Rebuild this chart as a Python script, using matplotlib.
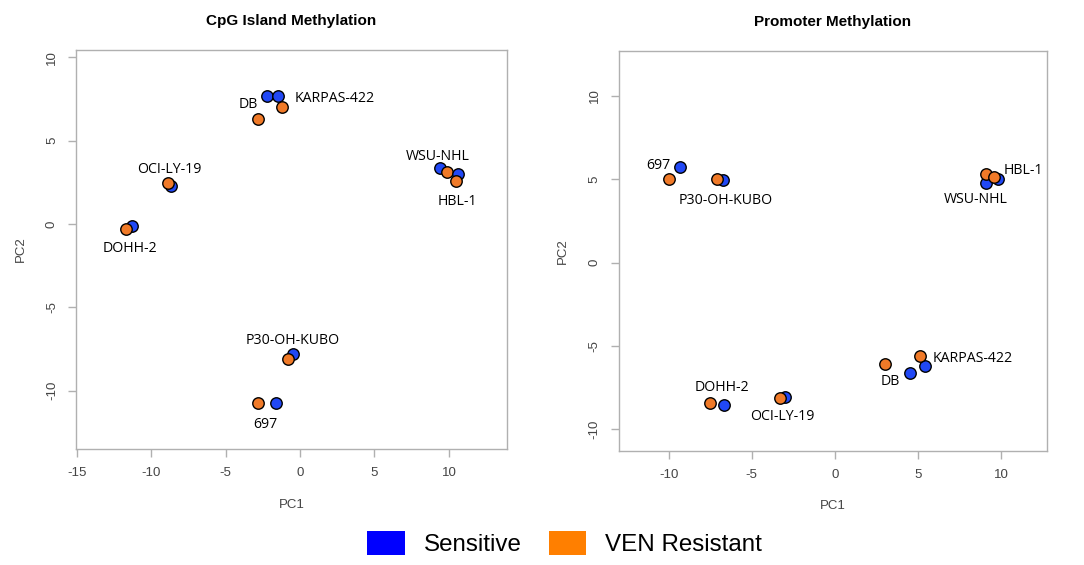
import matplotlib.pyplot as plt
from matplotlib.patches import Patch

plt.rcParams["font.family"] = ["Liberation Sans", "DejaVu Sans"]
plt.rcParams["axes.unicode_minus"] = False

# PCA coordinates per cell line (two replicates each)
cpg_lines = ["DB", "DB", "KARPAS-422", "KARPAS-422", "OCI-LY-19", "OCI-LY-19",
             "DOHH-2", "DOHH-2", "WSU-NHL", "WSU-NHL", "HBL-1", "HBL-1",
             "P30-OH-KUBO", "P30-OH-KUBO", "697", "697"]
cpg_pc1 = [-2.2, -2.8, -1.5, -1.2, -8.7, -8.9, -11.3, -11.7,
           9.4, 9.9, 10.6, 10.5, -0.5, -0.8, -1.6, -2.8]
cpg_pc2 = [7.7, 6.3, 7.7, 7.05, 2.3, 2.45, -0.1, -0.3,
           3.35, 3.15, 3.0, 2.6, -7.8, -8.1, -10.75, -10.75]
cpg_group = ["S", "R", "S", "R", "S", "R", "S", "R",
             "S", "R", "S", "R", "S", "R", "S", "R"]

prom_lines = ["697", "697", "P30-OH-KUBO", "P30-OH-KUBO", "WSU-NHL", "WSU-NHL",
              "HBL-1", "HBL-1", "KARPAS-422", "KARPAS-422", "DB", "DB",
              "DOHH-2", "DOHH-2", "OCI-LY-19", "OCI-LY-19"]
prom_pc1 = [-9.3, -10.0, -6.75, -7.1, 9.1, 9.1, 9.8, 9.55,
            5.4, 5.1, 4.5, 3.0, -6.65, -7.5, -3.0, -3.3]
prom_pc2 = [5.75, 5.0, 4.95, 5.0, 4.75, 5.3, 5.0, 5.15,
            -6.2, -5.6, -6.65, -6.1, -8.55, -8.4, -8.05, -8.1]
prom_group = ["S", "R", "S", "R", "S", "R", "S", "R",
              "S", "R", "S", "R", "S", "R", "S", "R"]

colors = {"S": "#2148f5", "R": "#f07a28"}

# label placement (x, y) in data units
cpg_labels = {"DB": (-3.5, 7.15), "KARPAS-422": (2.35, 7.55), "OCI-LY-19": (-8.75, 3.25),
              "DOHH-2": (-11.45, -1.45), "WSU-NHL": (9.25, 4.08), "HBL-1": (10.6, 1.36),
              "P30-OH-KUBO": (-0.5, -6.98), "697": (-2.33, -12.0)}
prom_labels = {"697": (-10.6, 5.85), "P30-OH-KUBO": (-6.55, 3.7), "HBL-1": (11.33, 5.5),
               "WSU-NHL": (8.43, 3.8), "KARPAS-422": (8.27, -5.78), "DB": (3.35, -7.16),
               "DOHH-2": (-6.8, -7.5), "OCI-LY-19": (-3.14, -9.24)}

fig = plt.figure(figsize=(10.84, 5.65), dpi=100)
ax1 = fig.add_axes([0.0701, 0.2053, 0.3976, 0.7062])
ax2 = fig.add_axes([0.5707, 0.2018, 0.3954, 0.7080])


def draw_panel(ax, pc1, pc2, groups, labels, title, xlim, ylim, xticks, yticks):
    for x, y, g in zip(pc1, pc2, groups):
        ax.scatter(x, y, s=68, color=colors[g], edgecolor="black", linewidth=1.0, zorder=3)
    for name, (lx, ly) in labels.items():
        ax.text(lx, ly, name, ha="center", va="center", fontsize=10.2,
                family="Open Sans", color="black")
    ax.set_xlim(*xlim)
    ax.set_ylim(*ylim)
    ax.set_xticks(xticks)
    ax.set_yticks(yticks)
    ax.set_yticklabels([str(t) for t in yticks], rotation=90, va="center")
    for sp in ax.spines.values():
        sp.set_color("#b0b0b0")
        sp.set_linewidth(1.0)
    ax.tick_params(colors="#b0b0b0", labelcolor="#444444", labelsize=9.5,
                   length=6, width=1.0, pad=7)
    ax.set_xlabel("PC1", fontsize=9.5, color="#444444", labelpad=14)
    ax.set_ylabel("PC2", fontsize=9.5, color="#444444", labelpad=14)
    ax.set_title(title, fontsize=11, fontweight="bold", pad=18)


draw_panel(ax1, cpg_pc1, cpg_pc2, cpg_group, cpg_labels, "CpG Island Methylation",
           (-15.05, 13.9), (-13.5, 10.45), [-15, -10, -5, 0, 5, 10], [-10, -5, 0, 5, 10])
draw_panel(ax2, prom_pc1, prom_pc2, prom_group, prom_labels, "Promoter Methylation",
           (-13.0, 12.75), (-11.3, 12.7), [-10, -5, 0, 5, 10], [-10, -5, 0, 5, 10])

handles = [Patch(facecolor="#0000ff", label="Sensitive"),
           Patch(facecolor="#ff7f00", label="VEN Resistant")]
fig.legend(handles=handles, loc="center", bbox_to_anchor=(0.521, 0.0375),
           ncol=2, frameon=False, fontsize=17.4, handlelength=1.55, handleheight=1.1,
           columnspacing=1.1, handletextpad=0.8)

fig.savefig("out.png", dpi=100)
